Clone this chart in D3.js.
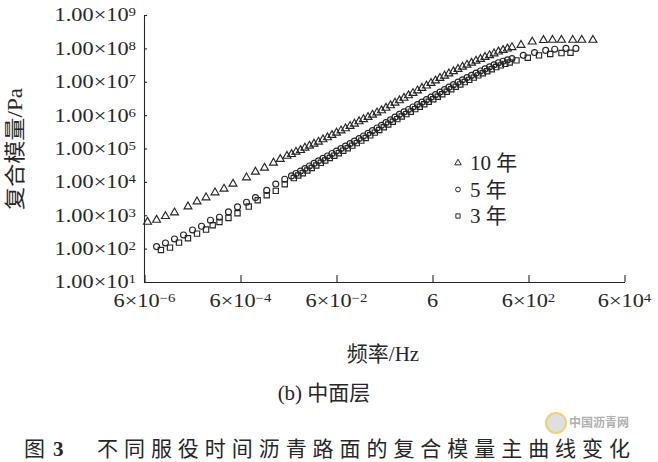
<!DOCTYPE html>
<html><head><meta charset="utf-8">
<script src="https://cdn.jsdelivr.net/npm/d3@7"></script>
<style>
html,body{margin:0;padding:0;background:#fff;}
svg{display:block;}
</style></head>
<body>
<svg id="chart" width="658" height="462"></svg>
<script>
// ---- data ----
const seriesNames = ["10 年", "5 年", "3 年"];

const freq10 = [6.93e-6,1.07e-5,1.64e-5,2.53e-5,4.83e-5,7.45e-5,1.15e-4,1.77e-4,2.72e-4,4.19e-4,8.0e-4,1.23e-3,1.90e-3,2.92e-3,4.04e-3,
  5.58e-3,6.93e-3,8.59e-3,1.07e-2,1.32e-2,1.64e-2,2.04e-2,2.53e-2,3.14e-2,3.90e-2,4.83e-2,6.00e-2,7.45e-2,9.25e-2,0.115,0.142,0.177,0.219,0.272,0.337,0.419,0.520,0.644,0.800,0.993,1.23,1.53,1.90,2.35,2.92,3.62,4.50,5.58,6.93,8.59,10.7,13.2,16.4,20.4,25.3,31.4,39.0,48.3,60.0,74.5,92.5,115,142,177,219,272,
  419,718,1.23e3,1.90e3,2.92e3,5.01e3,7.72e3,1.32e4];
const mod10 = [6.31e2,7.24e2,9.33e2,1.20e3,1.82e3,2.57e3,3.39e3,4.79e3,6.17e3,8.71e3,1.35e4,2.0e4,2.63e4,3.72e4,4.79e4,
  5.96e4,6.76e4,7.94e4,8.91e4,1.05e5,1.20e5,1.38e5,1.58e5,1.86e5,2.14e5,2.51e5,2.95e5,3.43e5,3.98e5,4.68e5,5.50e5,6.46e5,7.50e5,8.71e5,1.02e6,1.19e6,1.38e6,1.64e6,1.95e6,2.34e6,2.75e6,3.27e6,3.89e6,4.57e6,5.43e6,6.46e6,7.59e6,9.12e6,1.08e7,1.29e7,1.51e7,1.76e7,2.04e7,2.40e7,2.79e7,3.20e7,3.67e7,4.22e7,4.79e7,5.50e7,6.17e7,7.00e7,7.94e7,8.81e7,9.77e7,1.07e8,
  1.26e8,1.58e8,1.76e8,1.78e8,1.78e8,1.78e8,1.78e8,1.78e8];

const freq5 = [1.07e-5,1.64e-5,2.53e-5,3.90e-5,6.0e-5,9.25e-5,1.42e-4,2.19e-4,3.37e-4,5.20e-4,8.0e-4,1.23e-3,2.11e-3,3.26e-3,5.01e-3,
  6.93e-3,8.59e-3,1.07e-2,1.32e-2,1.64e-2,2.04e-2,2.53e-2,3.14e-2,3.90e-2,4.83e-2,6.00e-2,7.45e-2,9.25e-2,0.115,0.142,0.177,0.219,0.272,0.337,0.419,0.520,0.644,0.800,0.993,1.23,1.53,1.90,2.35,2.92,3.62,4.50,5.58,6.93,8.59,10.7,13.2,16.4,20.4,25.3,31.4,39.0,48.3,60.0,74.5,92.5,115,142,177,219,272,
  467,800,1.37e3,2.11e3,3.62e3,5.83e3];
const mod5 = [1.15e2,1.48e2,1.95e2,2.57e2,3.63e2,4.68e2,7.08e2,8.71e2,1.26e3,1.78e3,2.45e3,3.39e3,5.56e3,8.61e3,1.20e4,
  1.51e4,1.78e4,2.11e4,2.51e4,3.00e4,3.57e4,4.27e4,5.07e4,5.98e4,7.08e4,8.38e4,9.93e4,1.18e5,1.40e5,1.66e5,1.98e5,2.37e5,2.85e5,3.43e5,4.12e5,4.95e5,5.98e5,7.23e5,8.71e5,1.05e6,1.25e6,1.48e6,1.75e6,2.07e6,2.45e6,2.91e6,3.46e6,4.11e6,4.89e6,5.81e6,6.89e6,8.18e6,9.72e6,1.14e7,1.33e7,1.55e7,1.81e7,2.10e7,2.43e7,2.79e7,3.21e7,3.71e7,4.12e7,4.52e7,4.94e7,
  6.17e7,7.50e7,8.71e7,9.44e7,1.0e8,1.0e8];

const freq3 = [1.32e-5,2.04e-5,3.14e-5,4.83e-5,7.45e-5,1.15e-4,1.58e-4,2.19e-4,3.37e-4,5.20e-4,8.91e-4,1.37e-3,2.11e-3,3.26e-3,5.01e-3,
  7.73e-3,9.59e-3,1.19e-2,1.48e-2,1.83e-2,2.28e-2,2.82e-2,3.50e-2,4.35e-2,5.40e-2,6.70e-2,8.30e-2,0.103,0.128,0.159,0.197,0.244,0.303,0.377,0.467,0.579,0.719,0.893,1.11,1.37,1.71,2.12,2.62,3.26,4.05,5.02,6.22,7.73,9.59,11.9,14.8,18.3,22.8,28.2,35.0,43.5,54.0,67.0,83.0,103,128,159,197,244,
  337,579,993,1.70e3,2.92e3,4.50e3];
const mod3 = [91.2,1.07e2,1.51e2,2.04e2,2.82e2,3.72e2,5.01e2,6.31e2,8.32e2,1.15e3,1.82e3,2.82e3,3.98e3,5.37e3,8.51e3,
  1.30e4,1.55e4,1.82e4,2.19e4,2.60e4,3.09e4,3.72e4,4.37e4,5.19e4,6.10e4,7.24e4,8.61e4,1.02e5,1.22e5,1.45e5,1.72e5,2.07e5,2.48e5,2.99e5,3.59e5,4.32e5,5.25e5,6.31e5,7.59e5,9.12e5,1.07e6,1.27e6,1.51e6,1.78e6,2.11e6,2.51e6,2.99e6,3.55e6,4.22e6,5.01e6,5.96e6,7.08e6,8.32e6,9.77e6,1.14e7,1.33e7,1.55e7,1.80e7,2.07e7,2.37e7,2.75e7,3.09e7,3.43e7,3.76e7,
  4.37e7,5.25e7,6.17e7,6.76e7,7.24e7,7.41e7];

const xTickValues = [6e-6, 6e-4, 6e-2, 6, 6e2, 6e4];
const xTickBase = ["6×10", "6×10", "6×10", "6", "6×10", "6×10"];
const xTickExp = ["−6", "−4", "−2", "", "2", "4"];
const yTickValues = [1e1, 1e2, 1e3, 1e4, 1e5, 1e6, 1e7, 1e8, 1e9];
const yTickBase = ["1.00×10","1.00×10","1.00×10","1.00×10","1.00×10","1.00×10","1.00×10","1.00×10","1.00×10"];
const yTickExp = ["1","2","3","4","5","6","7","8","9"];

const xTitle = "频率/Hz";
const yTitle = "复合模量/Pa";
const subTitle = "(b) 中面层";
const figLabel = "图";
const figNum = "3";
const caption = "不同服役时间沥青路面的复合模量主曲线变化";
const watermark = "中国沥青网";

// ---- drawing ----
const ink = "#262626";
const serif = "'Liberation Serif','Times New Roman','Noto Sans CJK SC',serif";
const cjk = "'Noto Sans CJK SC','Liberation Serif',sans-serif";
const svg = d3.select("#chart");

const x = d3.scaleLog().domain([6e-6, 6e4]).range([144.5, 624.5]);
const y = d3.scaleLog().domain([10, 1e9]).range([282, 15]);

// axes (ticks point inwards)
svg.append("g").attr("transform", "translate(0,282)")
  .call(d3.axisBottom(x).tickValues(xTickValues).tickFormat("").tickSizeInner(-7).tickSizeOuter(0))
  .call(g => g.selectAll("path,line").attr("stroke", ink).attr("stroke-width", 1.1));
svg.append("g").attr("transform", "translate(144,0)")
  .call(d3.axisLeft(y).tickValues(yTickValues).tickFormat("").tickSizeInner(-3).tickSizeOuter(0))
  .call(g => g.selectAll("path,line").attr("stroke", ink).attr("stroke-width", 1.1));

// y tick labels
yTickValues.forEach((v, i) => {
  const t = svg.append("g").attr("transform", `translate(136,${y(v)}) scale(1.24,1)`)
    .append("text").attr("text-anchor", "end").attr("dy", "0.36em")
    .attr("font-family", serif).attr("font-size", 18).attr("fill", ink);
  t.append("tspan").text(yTickBase[i]);
  t.append("tspan").attr("dy", "-0.42em").attr("font-size", 12).text(yTickExp[i]);
});

// x tick labels
xTickValues.forEach((v, i) => {
  const t = svg.append("g").attr("transform", `translate(${x(v)},307) scale(1.24,1)`)
    .append("text").attr("text-anchor", "middle")
    .attr("font-family", serif).attr("font-size", 18).attr("fill", ink);
  t.append("tspan").text(xTickBase[i]);
  if (xTickExp[i]) t.append("tspan").attr("dy", "-0.42em").attr("font-size", 12).text(xTickExp[i]);
});

// series markers
const series = [
  {name: seriesNames[0], f: freq10, g: mod10, sym: d3.symbolTriangle, size: 27},
  {name: seriesNames[1], f: freq5, g: mod5, sym: d3.symbolCircle, size: 28},
  {name: seriesNames[2], f: freq3, g: mod3, sym: d3.symbolSquare, size: 28}
];
const plot = svg.append("g");
series.forEach(s => {
  const pts = s.f.map((f, i) => ({f, g: s.g[i]}));
  plot.append("g").selectAll("path").data(pts).join("path")
    .attr("transform", d => `translate(${x(d.f)},${y(d.g)})`)
    .attr("d", d3.symbol().type(s.sym).size(s.size))
    .attr("fill", "none").attr("stroke", ink).attr("stroke-width", 1.15);
});

// legend
const lg = svg.append("g").attr("transform", "translate(458,163)");
series.forEach((s, i) => {
  const row = lg.append("g").attr("transform", `translate(0,${i * 26.5})`);
  row.append("path").attr("d", d3.symbol().type(s.sym).size(18)())
    .attr("fill", "none").attr("stroke", ink).attr("stroke-width", 1);
  row.append("text").attr("x", 12).attr("y", 7)
    .attr("font-family", serif).attr("font-size", 21).attr("fill", ink)
    .text(s.name);
});

// axis titles
svg.append("text").attr("x", 383).attr("y", 361).attr("text-anchor", "middle")
  .attr("font-family", serif).attr("font-size", 21).attr("fill", ink).text(xTitle);
svg.append("text").attr("transform", "translate(15,149) rotate(-90)")
  .attr("text-anchor", "middle").attr("dy", "0.35em")
  .attr("font-family", serif).attr("font-size", 21).attr("fill", ink)
  .attr("textLength", 122).attr("lengthAdjust", "spacingAndGlyphs").text(yTitle);

// sub title and caption
svg.append("text").attr("x", 324).attr("y", 400).attr("text-anchor", "middle")
  .attr("font-family", serif).attr("font-size", 21).attr("fill", ink).text(subTitle);
svg.append("text").attr("x", 24).attr("y", 456)
  .attr("font-family", cjk).attr("font-size", 21).attr("fill", ink).text(figLabel);
svg.append("text").attr("x", 53).attr("y", 456)
  .attr("font-family", serif).attr("font-weight", "bold").attr("font-size", 21).attr("fill", ink).text(figNum);
svg.append("text").attr("x", 97).attr("y", 456)
  .attr("font-family", cjk).attr("font-size", 21).attr("fill", ink)
  .attr("textLength", 533).attr("lengthAdjust", "spacing").text(caption);

// watermark
svg.append("circle").attr("cx", 556).attr("cy", 423).attr("r", 10)
  .attr("fill", "#d8d8d8").attr("stroke", "#e8c850").attr("stroke-width", 2).attr("opacity", 0.8);
svg.append("text").attr("x", 569).attr("y", 427)
  .attr("font-family", cjk).attr("font-weight", "bold").attr("font-size", 12).attr("fill", "#b0b0b0").text(watermark);
</script>
</body></html>
